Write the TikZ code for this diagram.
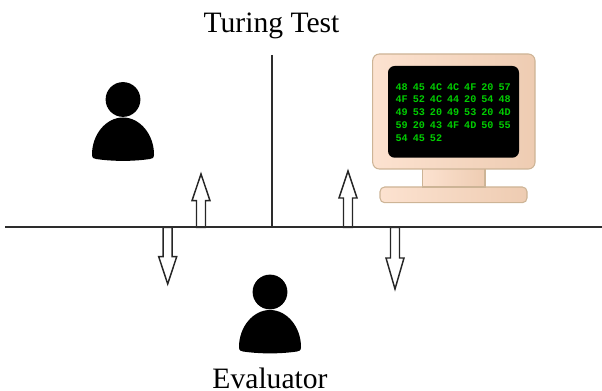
\documentclass[tikz,border=0pt]{standalone}
\usepackage{fontspec}
\setmainfont{Liberation Serif}
\newfontfamily\hexfont{Liberation Mono}[Scale=1.0]
\definecolor{peachlight}{RGB}{252,226,208}
\definecolor{peachdark}{RGB}{238,204,178}
\definecolor{peachline}{RGB}{205,180,150}
\definecolor{hexgreen}{RGB}{0,205,0}
\definecolor{axisgray}{RGB}{45,45,45}
\tikzset{
  caption/.style={font=\fontsize{22.2}{24}\selectfont, inner sep=0pt, anchor=base},
  axis/.style={draw=axisgray, line width=1.3pt},
  blockarrow/.style={draw=black!85, fill=white, line width=1.1pt, line join=miter},
  casing/.style={draw=peachline, line width=0.8pt, left color=peachlight, right color=peachdark, rounded corners=3.5pt},
  hexcell/.style={font=\hexfont\bfseries\fontsize{7.6}{8}\selectfont, text=hexgreen, inner sep=0pt, anchor=base},
  person/.pic={
    \fill [black] (0,0) circle (17.4);
    \fill [black] (-31,55) .. controls (-31,35) and (-17,18) .. (0,18)
      .. controls (17,18) and (31,35) .. (31,55)
      .. controls (31,59) and (29,59) .. (27,59.5)
      .. controls (10,62) and (-10,62) .. (-27,59.5)
      .. controls (-29,59) and (-31,59) .. (-31,55) -- cycle;
  }
}
\begin{document}
\begin{tikzpicture}[x=0.75pt,y=-0.75pt]
  \useasboundingbox (0,0) rectangle (602,391);
  % labels
  \node [caption] (title) at (271.5,32.7) {Turing Test};
  \node [caption] (evaluator) at (270,388) {Evaluator};
  % people
  \pic at (123,99.5) {person};
  \pic at (270,292) {person};
  % monitor
  \draw [casing] (380,187) rectangle (527,202.7);
  \draw [casing, rounded corners=0pt] (422.7,165) rectangle (485,187);
  \draw [casing, rounded corners=5pt] (372.7,54) rectangle (535,169);
  \fill [black, rounded corners=5pt] (388,66) rectangle (519,157.7);
  \foreach \rowy/\cells in {90.2/{48,45,4C,4C,4F,20,57},102.9/{4F,52,4C,44,20,54,48},115.7/{49,53,20,49,53,20,4D},128.5/{59,20,43,4F,4D,50,55},141.2/{54,45,52}}
    \foreach \cell [count=\i from 0] in \cells
      \node [hexcell] at ({401.7+17.15*\i},\rowy) {\cell};
  % arrows: centre/tip/neck/base
  \foreach \cx/\tip/\neck/\base in {201/174/200.7/227.3,348/171/198/227.3,167.7/284/256.7/227.3,395/289/258/227.3}
    \draw [blockarrow] (\cx,\tip) -- (\cx+9,\neck) -- (\cx+4.5,\neck) -- (\cx+4.5,\base)
      -- (\cx-4.5,\base) -- (\cx-4.5,\neck) -- (\cx-9,\neck) -- cycle;
  % axes
  \coordinate (left) at (5,227.3);
  \coordinate (right) at (602,227.3);
  \coordinate (top) at (272.3,55);
  \coordinate (foot) at (272.3,227.3);
  \draw [axis] (left) -- (right);
  \draw [axis] (top) -- (foot);
\end{tikzpicture}
\end{document}
